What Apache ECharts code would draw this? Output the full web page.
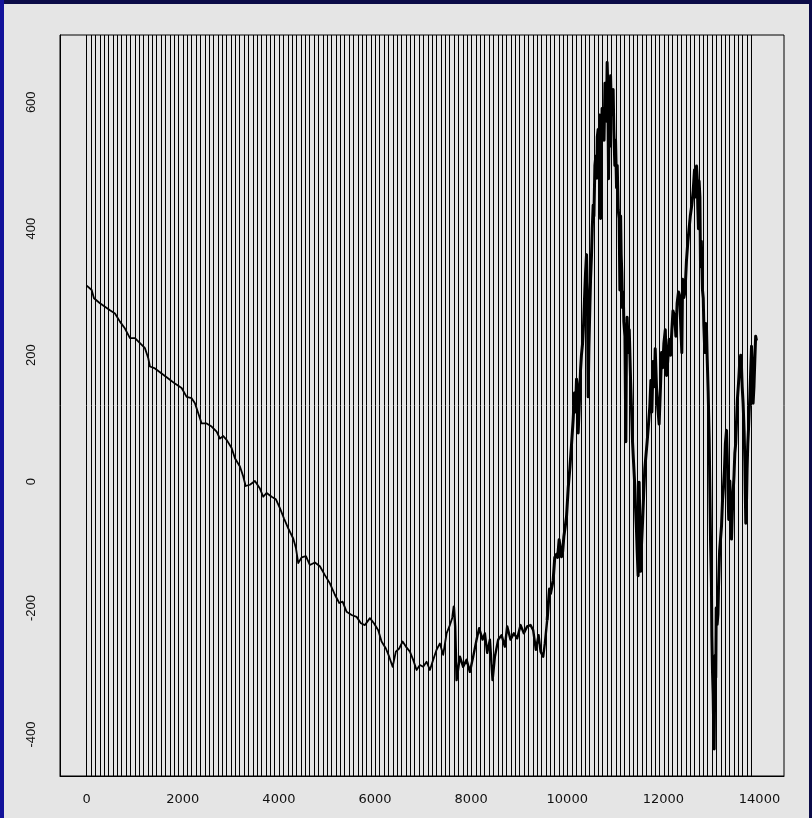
<!DOCTYPE html>
<html>
<head>
<meta charset="utf-8">
<script src="https://cdn.jsdelivr.net/npm/echarts@6/dist/echarts.min.js"></script>
<style>
  html, body { margin: 0; padding: 0; background: #e5e5e5; }
  #chart { position: absolute; left: 0; top: 0; width: 812px; height: 818px; }
  .edge { position: absolute; pointer-events: none; }
</style>
</head>
<body>
<div id="chart"></div>
<div class="edge" style="left:0;top:0;width:812px;height:4px;background:#0b0b48"></div>
<div class="edge" style="left:0;top:0;width:4px;height:818px;background:#12129a"></div>
<div class="edge" style="right:0;top:0;width:3px;height:818px;background:#0b0b48"></div>
<script>
// Long steady decline, [index, value]
const descentPairs = [
  [0, 310], [104, 303], [152, 290], [277, 282], [485, 271], [589, 266], [693, 253], [797, 242],
  [901, 227], [1005, 227], [1109, 219], [1213, 211], [1282, 195], [1317, 182], [1421, 179], [1560, 171],
  [1698, 163], [1837, 155], [1976, 148], [2080, 134], [2184, 132], [2253, 124], [2322, 108], [2392, 92],
  [2496, 92], [2600, 87], [2704, 79], [2773, 68], [2842, 72], [2912, 66], [3016, 53], [3085, 37],
  [3189, 24], [3258, 8], [3308, -7], [3397, -5], [3501, 1], [3605, -11], [3674, -24], [3745, -18],
  [3849, -24], [3938, -28], [4021, -42], [4104, -58], [4194, -74], [4298, -90], [4354, -105], [4402, -129],
  [4472, -120], [4562, -118], [4645, -132], [4749, -128], [4853, -134], [4957, -148], [5061, -161], [5165, -179],
  [5256, -192], [5325, -190], [5409, -206], [5513, -211], [5617, -214], [5706, -224], [5790, -227], [5894, -216],
  [5977, -224], [6067, -235], [6136, -253], [6226, -264], [6295, -277], [6366, -293], [6434, -269], [6503, -264],
  [6574, -253], [6642, -261], [6726, -269], [6794, -282], [6865, -298], [6934, -290], [7002, -293], [7073, -285],
  [7142, -298], [7210, -282], [7281, -266], [7350, -256], [7418, -274], [7489, -240], [7558, -227], [7614, -214]
];

// Choppy trough before the surge
const troughPairs = [
  [7614, -214], [7641, -198], [7668, -229], [7697, -314], [7766, -277], [7834, -293], [7905, -282], [7974, -301],
  [8042, -277], [8113, -250], [8167, -232], [8238, -250], [8286, -240], [8334, -271], [8390, -250], [8446, -314],
  [8494, -277], [8563, -250], [8633, -243], [8702, -261], [8750, -229], [8820, -250], [8889, -240], [8958, -248],
  [9029, -227], [9097, -240], [9166, -229], [9236, -227], [9291, -235], [9347, -266], [9403, -243], [9445, -269],
  [9499, -277], [9534, -256], [9582, -219]
];

// Volatile swings to the end
const swingPairs = [
  [9582, -219], [9600, -200], [9630, -170], [9652, -177], [9680, -175], [9707, -156], [9740, -120], [9777, -115],
  [9800, -120], [9831, -92], [9860, -95], [9881, -119], [9905, -110], [9929, -87], [9960, -70], [9985, -55],
  [10020, -10], [10054, 21], [10090, 60], [10123, 98], [10150, 140], [10170, 110], [10193, 162], [10210, 150],
  [10227, 77], [10250, 120], [10276, 176], [10295, 200], [10318, 218], [10340, 250], [10366, 303], [10380, 330],
  [10401, 359], [10418, 300], [10435, 134], [10450, 210], [10470, 275], [10485, 320], [10505, 359], [10520, 400],
  [10539, 437], [10555, 420], [10575, 500], [10595, 515], [10615, 480], [10625, 545], [10643, 557], [10660, 520],
  [10675, 580], [10693, 416], [10710, 520], [10725, 590], [10747, 571], [10765, 540], [10785, 630], [10803, 613],
  [10815, 570], [10830, 663], [10845, 620], [10859, 479], [10875, 600], [10885, 530], [10901, 642], [10920, 580],
  [10942, 592], [10955, 620], [10969, 557], [10990, 500], [11005, 540], [11026, 465], [11040, 500], [11060, 430],
  [11080, 416], [11095, 303], [11110, 420], [11122, 359], [11135, 330], [11150, 275], [11165, 300], [11177, 253],
  [11200, 230], [11219, 63], [11230, 200], [11246, 260], [11275, 204], [11290, 240], [11317, 162], [11335, 120],
  [11358, 63], [11380, 30], [11406, -8], [11420, -40], [11441, -78], [11455, -110], [11475, -149], [11496, -1],
  [11510, -60], [11525, -142], [11545, -100], [11567, -64], [11590, -20], [11614, 21], [11662, 63], [11690, 90],
  [11718, 119], [11740, 160], [11760, 110], [11787, 190], [11810, 150], [11830, 210], [11858, 148], [11880, 120],
  [11912, 91], [11940, 150], [11962, 204], [11985, 180], [12010, 218], [12040, 240], [12066, 168], [12090, 190],
  [12120, 225], [12150, 200], [12176, 239], [12200, 270], [12238, 260], [12260, 230], [12286, 282], [12315, 300],
  [12342, 293], [12360, 250], [12384, 204], [12400, 320], [12425, 291], [12450, 300], [12481, 350], [12510, 380],
  [12536, 401], [12560, 420], [12592, 438], [12620, 460], [12648, 493], [12670, 450], [12690, 499], [12705, 480],
  [12717, 432], [12730, 400], [12744, 475], [12760, 450], [12773, 340], [12790, 380], [12814, 303], [12830, 290],
  [12842, 247], [12863, 204], [12880, 250], [12898, 241], [12910, 200], [12932, 143], [12953, 69], [12981, -91],
  [13000, -160], [13009, -245], [13022, -300], [13036, -337], [13045, -380], [13057, -423], [13066, -340], [13078, -275],
  [13090, -310], [13100, -200], [13119, -226], [13135, -210], [13148, -165], [13170, -110], [13189, -91], [13210, -70],
  [13231, -29], [13250, -10], [13272, 20], [13290, 60], [13314, 81], [13330, 40], [13349, -29], [13360, -60],
  [13383, 1], [13400, -40], [13418, -91], [13435, -50], [13452, -17], [13470, 10], [13487, 45], [13505, 60],
  [13522, 94], [13540, 130], [13563, 155], [13575, 170], [13590, 192], [13610, 200], [13626, 180], [13640, 150],
  [13659, 124], [13680, 80], [13695, 32], [13705, -20], [13715, -66], [13728, -40], [13742, 20], [13757, 60],
  [13772, 84], [13785, 110], [13799, 134], [13815, 170], [13834, 214], [13850, 180], [13867, 124], [13885, 150],
  [13903, 192], [13920, 230], [13938, 223]
];

// Axis tick values
const xTicks = [0, 2000, 4000, 6000, 8000, 10000, 12000, 14000];
const yTicks = [-400, -200, 0, 200, 400, 600];

// Axis extents
const xMin = -555, xMax = 14510;
const yMin = -465.7, yMax = 706.4;

// Tick mark length, in axis units (about 7 px on each axis)
const xTickReach = 146;
const yTickReach = 11;

// Vertical reference rules across the panel
const stripeStep = 91;
const stripeCount = 153;

const stripeRules = [];
for (let i = 0; i < stripeCount; i++) stripeRules.push({ xAxis: i * stripeStep });

// Outward tick segments expressed in data coordinates
const tickSegments = [];
xTicks.forEach(v => tickSegments.push([{ coord: [v, yMin] }, { coord: [v, yMin - yTickReach] }]));
yTicks.forEach(v => tickSegments.push([{ coord: [xMin, v] }, { coord: [xMin - xTickReach, v] }]));

function trace(pairs, width) {
  return {
    type: 'line', z: 2, silent: true,
    showSymbol: false, symbol: 'none',
    lineStyle: { color: '#000', width: width, join: 'round' },
    data: pairs
  };
}

const axisInk = { color: '#000', width: 1 };

const chart = echarts.init(document.getElementById('chart'), null, { renderer: 'canvas' });
chart.setOption({
  animation: false,
  backgroundColor: '#e5e5e5',
  grid: {
    left: 60, right: 28, top: 35, bottom: 42,
    show: true, borderColor: '#000', borderWidth: 1, backgroundColor: 'transparent'
  },
  xAxis: {
    type: 'value', min: xMin, max: xMax,
    axisLine: { show: true, onZero: false, lineStyle: axisInk },
    splitLine: { show: false },
    axisTick: { show: false },
    axisLabel: {
      customValues: xTicks, margin: 17, formatter: v => String(v),
      fontFamily: 'DejaVu Sans', fontSize: 13, color: '#111'
    }
  },
  yAxis: {
    type: 'value', min: yMin, max: yMax,
    axisLine: { show: true, onZero: false, lineStyle: axisInk },
    splitLine: { show: false },
    axisTick: { show: false },
    axisLabel: {
      customValues: yTicks, margin: 22, rotate: 90, formatter: v => String(v),
      fontFamily: 'Liberation Sans', fontSize: 13, color: '#111'
    }
  },
  series: [
    {
      type: 'line', data: [], z: 1, silent: true,
      markLine: {
        silent: true, symbol: ['none', 'none'], animation: false,
        label: { show: false },
        lineStyle: { color: '#000', width: 1, type: 'solid' },
        emphasis: { disabled: true },
        data: stripeRules
      }
    },
    trace(descentPairs, 1.8),
    trace(troughPairs, 2.4),
    trace(swingPairs, 3),
    {
      type: 'line', data: [], z: 5, silent: true, clip: false,
      markLine: {
        silent: true, symbol: ['none', 'none'], animation: false,
        label: { show: false },
        lineStyle: { color: '#000', width: 1, type: 'solid' },
        emphasis: { disabled: true },
        data: tickSegments
      }
    }
  ]
});
</script>
</body>
</html>
